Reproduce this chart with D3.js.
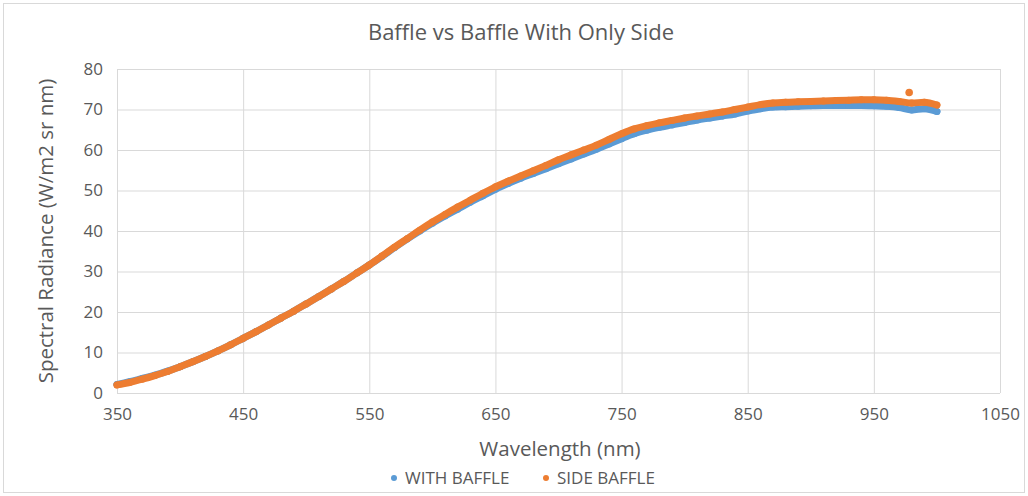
<!DOCTYPE html>
<html>
<head>
<meta charset="utf-8">
<script src="https://cdn.jsdelivr.net/npm/d3@7"></script>
<style>
  body { margin: 0; background: #fff; }
  text { font-family: "Open Sans", "Noto Sans", sans-serif; fill: #595959; }
</style>
</head>
<body>
<script>
// dimensions de la page
var w = 1028, h = 496;
var margin = { left: 117, right: 28, top: 69, bottom: 103 };

// donnees
const wavelength = [350,360,370,380,390,400,410,420,430,440,450,460,470,480,490,500,
  510,520,530,540,550,560,570,580,590,600,610,620,630,640,650,660,670,680,690,700,
  710,720,730,740,750,760,770,780,790,800,810,820,830,840,850,860,870,880,890,900,
  910,920,930,940,950,960,970,980,990,1000];

const withBaffle = [2.1,2.8,3.6,4.4,5.4,6.5,7.7,9.0,10.4,11.9,13.5,15.1,16.8,18.5,20.2,22.0,
  23.8,25.7,27.6,29.6,31.6,33.7,35.9,38.0,40.0,41.9,43.7,45.4,47.1,48.7,50.3,51.7,53.0,54.2,55.4,56.6,
  57.8,59.0,60.2,61.5,62.8,64.0,64.9,65.6,66.2,66.8,67.4,67.9,68.4,68.9,69.6,70.2,70.6,70.7,70.8,70.9,
  71.0,71.0,71.0,71.0,70.9,70.8,70.5,69.9,70.2,69.5];

const sideBaffle = [2.0,2.6,3.4,4.3,5.3,6.5,7.7,9.0,10.4,11.9,13.5,15.1,16.8,18.5,20.2,22.0,
  23.8,25.7,27.6,29.6,31.6,33.8,36.0,38.1,40.2,42.2,44.1,45.9,47.6,49.3,50.9,52.3,53.6,54.9,56.2,57.6,
  58.8,60.0,61.2,62.6,64.0,65.2,66.0,66.7,67.3,67.9,68.4,68.9,69.4,70.0,70.6,71.2,71.6,71.8,71.9,72.0,
  72.1,72.2,72.3,72.4,72.4,72.3,72.0,71.6,71.8,71.1];

// points isoles
const sideOutlierX = [978];
const sideOutlierY = [74.2];

const xTicks = [350,450,550,650,750,850,950,1050];
const yTicks = [0,10,20,30,40,50,60,70,80];

var svg = d3.select("body").append("svg")
  .attr("width", w)
  .attr("height", h);

// cadre du graphique
svg.append("rect")
  .attr("x", 3.5).attr("y", 3.5)
  .attr("width", w - 7).attr("height", h - 7)
  .attr("fill", "#fff").attr("stroke", "#d9d9d9");

var x = d3.scaleLinear().domain([350, 1050]).range([margin.left, w - margin.right]);
var y = d3.scaleLinear().domain([0, 80]).range([h - margin.bottom, margin.top]);

// grille
svg.append("g").selectAll("line").data(yTicks).enter().append("line")
  .attr("x1", x(350)).attr("x2", x(1050))
  .attr("y1", function(d) { return y(d) + 0.5; })
  .attr("y2", function(d) { return y(d) + 0.5; })
  .attr("stroke", "#d9d9d9");

svg.append("g").selectAll("line").data(xTicks).enter().append("line")
  .attr("y1", y(0)).attr("y2", y(80))
  .attr("x1", function(d) { return x(d) + 0.5; })
  .attr("x2", function(d) { return x(d) + 0.5; })
  .attr("stroke", "#d9d9d9");

// axes
var xAxis = svg.append("g")
  .attr("transform", "translate(0," + y(0) + ")")
  .call(d3.axisBottom(x).tickValues(xTicks).tickFormat(d3.format("d")).tickSize(0).tickPadding(15));
var yAxis = svg.append("g")
  .attr("transform", "translate(" + x(350) + ",0)")
  .call(d3.axisLeft(y).tickValues(yTicks).tickSize(0).tickPadding(14));
[xAxis, yAxis].forEach(function(a) {
  a.select(".domain").remove();
  a.selectAll("text").style("font-size", "17px").attr("fill", "#595959")
    .style("font-family", "'Open Sans', sans-serif");
});

// series
var series = [
  { name: "WITH BAFFLE", values: withBaffle, color: "#5b9bd5" },
  { name: "SIDE BAFFLE", values: sideBaffle, color: "#ed7d31" }
];

var line = d3.line()
  .x(function(d) { return x(d[0]); })
  .y(function(d) { return y(d[1]); })
  .curve(d3.curveMonotoneX);

series.forEach(function(s) {
  var pts = wavelength.map(function(l, i) { return [l, s.values[i]]; });
  svg.append("path")
    .attr("d", line(pts))
    .attr("fill", "none")
    .attr("stroke", s.color)
    .attr("stroke-width", 7)
    .attr("stroke-linecap", "round")
    .attr("stroke-linejoin", "round");
  svg.append("g").selectAll("circle").data(pts).enter().append("circle")
    .attr("cx", function(d) { return x(d[0]); })
    .attr("cy", function(d) { return y(d[1]); })
    .attr("r", 3.5)
    .attr("fill", s.color);
});

svg.append("g").selectAll("circle").data(sideOutlierX).enter().append("circle")
  .attr("cx", function(d) { return x(d); })
  .attr("cy", function(d, i) { return y(sideOutlierY[i]); })
  .attr("r", 3.8)
  .attr("fill", "#ed7d31");

// titres
svg.append("text")
  .attr("x", 521).attr("y", 40)
  .attr("text-anchor", "middle")
  .style("font-size", "22px")
  .text("Baffle vs Baffle With Only Side");

svg.append("text")
  .attr("x", 560).attr("y", 456)
  .attr("text-anchor", "middle")
  .style("font-size", "20.5px")
  .text("Wavelength (nm)");

svg.append("text")
  .attr("transform", "translate(53," + y(40) + ") rotate(-90)")
  .attr("text-anchor", "middle")
  .style("font-size", "20.5px")
  .text("Spectral Radiance (W/m2 sr nm)");

// legende
var legend = svg.append("g").selectAll("g").data(series).enter().append("g")
  .attr("transform", function(d, i) { return "translate(" + (394 + i * 152) + ",478)"; });
legend.append("circle").attr("r", 3).attr("fill", function(d) { return d.color; });
legend.append("text")
  .attr("x", 11).attr("dy", "0.35em")
  .style("font-size", "17px")
  .text(function(d) { return d.name; });
</script>
</body>
</html>
